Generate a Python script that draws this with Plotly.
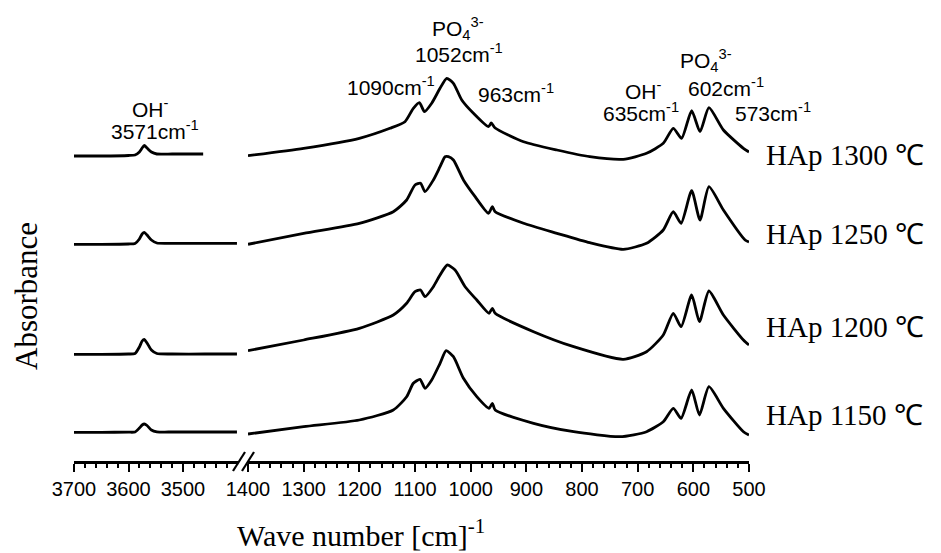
import plotly.graph_objects as go

# ---------------- data ----------------
labels = ["HAp 1300 ℃", "HAp 1250 ℃", "HAp 1200 ℃", "HAp 1150 ℃"]

# OH stretching region (left segment), absorbance in arbitrary stacked units
left_wn = {
    "HAp 1300 ℃": [3700, 3650, 3600, 3588, 3580, 3575, 3571, 3566, 3558, 3548, 3520, 3480, 3463],
    "HAp 1250 ℃": [3700, 3650, 3600, 3588, 3580, 3575, 3571, 3566, 3558, 3548, 3520, 3460, 3401],
    "HAp 1200 ℃": [3700, 3650, 3600, 3588, 3580, 3575, 3571, 3566, 3558, 3548, 3520, 3460, 3401],
    "HAp 1150 ℃": [3700, 3650, 3600, 3588, 3580, 3575, 3571, 3566, 3558, 3548, 3520, 3460, 3401],
}
left_abs = {
    "HAp 1300 ℃": [3.05, 3.05, 3.055, 3.06, 3.09, 3.13, 3.155, 3.13, 3.09, 3.07, 3.07, 3.07, 3.07],
    "HAp 1250 ℃": [2.167, 2.167, 2.17, 2.175, 2.22, 2.27, 2.287, 2.26, 2.21, 2.18, 2.177, 2.177, 2.177],
    "HAp 1200 ℃": [1.067, 1.067, 1.07, 1.075, 1.14, 1.2, 1.217, 1.18, 1.11, 1.075, 1.07, 1.07, 1.07],
    "HAp 1150 ℃": [0.287, 0.287, 0.288, 0.29, 0.33, 0.36, 0.37, 0.355, 0.31, 0.292, 0.29, 0.29, 0.29],
}

# phosphate region (right segment)
right_wn = {
    "HAp 1300 ℃": [1400, 1300, 1200, 1145, 1118, 1103, 1092, 1083, 1070, 1055, 1043, 1031, 1016, 995,
                   968, 963, 956, 905, 845, 786, 726, 684, 654, 636, 621, 603, 588, 572, 546, 510, 500],
    "HAp 1250 ℃": [1400, 1300, 1200, 1139, 1115, 1100, 1090, 1082, 1067, 1055, 1046, 1040, 1031, 1013, 992,
                   968, 961, 956, 905, 845, 786, 726, 684, 654, 636, 622, 603, 588, 572, 546, 507, 500],
    "HAp 1200 ℃": [1400, 1300, 1200, 1139, 1115, 1100, 1090, 1082, 1067, 1055, 1042, 1028, 1010, 989,
                   967, 961, 956, 887, 815, 726, 684, 654, 636, 622, 603, 589, 572, 546, 510, 500],
    "HAp 1150 ℃": [1400, 1300, 1200, 1139, 1115, 1103, 1091, 1082, 1070, 1055, 1044, 1031, 1013, 989,
                   967, 961, 956, 887, 815, 732, 684, 654, 636, 622, 603, 589, 572, 546, 510, 500],
}
right_abs = {
    "HAp 1300 ℃": [3.053, 3.127, 3.227, 3.327, 3.393, 3.527, 3.583, 3.493, 3.577, 3.727, 3.827, 3.777, 3.61, 3.477,
                   3.343, 3.38, 3.33, 3.193, 3.11, 3.043, 3.017, 3.077, 3.177, 3.327, 3.227, 3.503, 3.293, 3.533,
                   3.31, 3.127, 3.09],
    "HAp 1250 ℃": [2.167, 2.277, 2.377, 2.493, 2.61, 2.76, 2.777, 2.693, 2.81, 2.943, 3.043, 3.043, 3.01, 2.81, 2.643,
                   2.477, 2.543, 2.493, 2.377, 2.277, 2.183, 2.117, 2.177, 2.31, 2.493, 2.377, 2.703, 2.41, 2.743,
                   2.51, 2.21, 2.19],
    "HAp 1200 ℃": [1.103, 1.21, 1.327, 1.46, 1.577, 1.693, 1.71, 1.643, 1.743, 1.86, 1.96, 1.91, 1.743, 1.61,
                   1.477, 1.527, 1.477, 1.293, 1.143, 1.017, 1.093, 1.26, 1.477, 1.343, 1.66, 1.393, 1.7, 1.46,
                   1.21, 1.16],
    "HAp 1150 ℃": [0.27, 0.343, 0.41, 0.51, 0.643, 0.777, 0.817, 0.727, 0.81, 0.977, 1.103, 1.043, 0.827, 0.643,
                   0.527, 0.577, 0.51, 0.377, 0.293, 0.243, 0.293, 0.393, 0.527, 0.427, 0.71, 0.46, 0.743, 0.527,
                   0.293, 0.26],
}

left_ticks = [3700, 3600, 3500]
left_minor = [3680, 3660, 3640, 3620, 3580, 3560, 3540, 3520, 3480, 3460, 3440, 3420]
right_ticks = [1400, 1300, 1200, 1100, 1000, 900, 800, 700, 600, 500]
right_minor = [w for w in range(1380, 500, -20) if w % 100 != 0]

# ---------------- layout geometry ----------------
W, H = 941, 553
ML, MR, MT, MB = 74, 192, 0, 92
PW, PH = W - ML - MR, H - MT - MB


def fx(px):
    return (px - ML) / PW


def fy(py):
    return (H - MB - py) / PH


fig = go.Figure()
line = dict(color="black", width=2.8)
for lab in labels:
    fig.add_trace(go.Scatter(x=left_wn[lab], y=left_abs[lab], mode="lines", line=dict(line, shape="spline", smoothing=0.6),
                             xaxis="x", yaxis="y", showlegend=False, hoverinfo="skip"))
    fig.add_trace(go.Scatter(x=right_wn[lab], y=right_abs[lab], mode="lines", line=dict(line, shape="spline", smoothing=0.6),
                             xaxis="x2", yaxis="y", showlegend=False, hoverinfo="skip"))

tickfont = dict(family="Liberation Sans, Arial, sans-serif", size=20, color="black")
common = dict(showline=True, linecolor="black", linewidth=2.5, ticks="outside", ticklen=8, tickwidth=2,
              tickcolor="black", showgrid=False, zeroline=False, tickfont=tickfont, anchor="y", tickmode="array")
fig.update_layout(
    width=W, height=H, margin=dict(l=ML, r=MR, t=MT, b=MB),
    paper_bgcolor="white", plot_bgcolor="white",
    xaxis=dict(common, domain=[0, fx(237.5)], range=[3700, 3400], tickvals=left_ticks,
               minor=dict(tickmode="array", tickvals=left_minor, ticks="outside", ticklen=4, tickwidth=2, tickcolor="black")),
    xaxis2=dict(common, domain=[fx(248), 1], range=[1400, 500], tickvals=right_ticks,
                minor=dict(tickmode="array", tickvals=right_minor, ticks="outside", ticklen=4, tickwidth=2, tickcolor="black")),
    yaxis=dict(range=[0, 4.61], visible=False),
)

# axis break marks
for x0, x1 in [(233, 245), (242, 254)]:
    fig.add_shape(type="line", xref="paper", yref="paper", x0=fx(x0), y0=fy(471), x1=fx(x1), y1=fy(452),
                  line=dict(color="black", width=2.2))

sans = dict(family="Liberation Sans, Arial, sans-serif", size=21, color="black")
serif = dict(family="Liberation Serif, Times New Roman, serif", size=29, color="black")
serif_big = dict(family="Liberation Serif, Times New Roman, serif", size=31, color="black")
serif_title = dict(family="Liberation Serif, Times New Roman, serif", size=30, color="black")


def ann(text, x, y, font, **kw):
    fig.add_annotation(text=text, x=fx(x), y=fy(y), xref="paper", yref="paper", showarrow=False,
                       font=font, xanchor=kw.get("xanchor", "center"), yanchor=kw.get("yanchor", "middle"),
                       textangle=kw.get("angle", 0))


ann("OH<sup>-</sup>", 150, 108, sans)
ann("3571cm<sup>-1</sup>", 155, 130, sans)
ann("PO<sub>4</sub><sup>3-</sup>", 458, 29, sans)
ann("1052cm<sup>-1</sup>", 459, 53, sans)
ann("1090cm<sup>-1</sup>", 391, 86, sans)
ann("963cm<sup>-1</sup>", 516, 93, sans)
ann("PO<sub>4</sub><sup>3-</sup>", 706, 61, sans)
ann("602cm<sup>-1</sup>", 726, 87, sans)
ann("OH<sup>-</sup>", 643, 90, sans)
ann("635cm<sup>-1</sup>", 641, 112, sans)
ann("573cm<sup>-1</sup>", 773, 112, sans)

for lab, y in zip(labels, [155, 234, 327, 415]):
    ann(lab, 764, y, serif, xanchor="left")

ann("Absorbance", 27, 296, serif_big, angle=-90)
ann("Wave number [cm]<sup>-1</sup>", 361, 554, serif_title, yanchor="bottom")

fig.write_html("out.html")
